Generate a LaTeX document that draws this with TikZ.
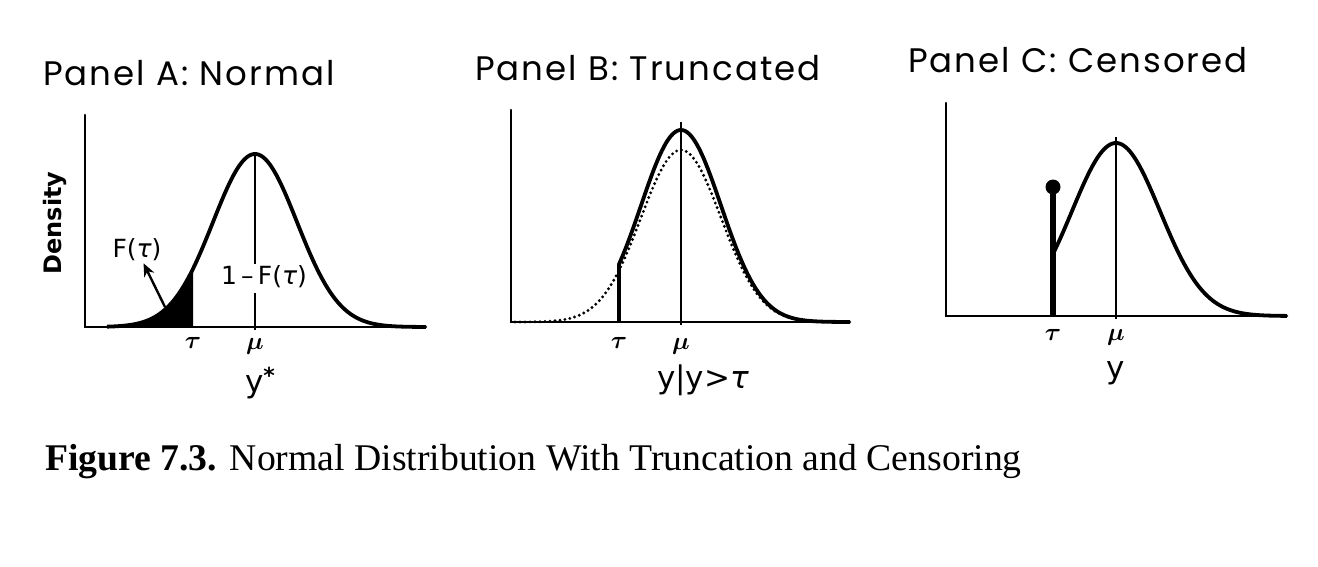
\documentclass[tikz,border=0pt]{standalone}
\usepackage{bm}
\usepackage{fontspec}
\setmainfont{Liberation Serif}
\newfontfamily\titlefont[LetterSpace=6]{Poppins}
\newfontfamily\labelfont{DejaVu Sans}
\usetikzlibrary{arrows.meta}
\newcommand{\gtau}{{\labelfont\itshape τ}}
\begin{document}
\begin{tikzpicture}[x=1pt,y=-1pt,
  axis/.style={line width=2.6pt,line cap=round,line join=miter},
  curve/.style={line width=3.8pt,line join=round},
  muline/.style={line width=1.6pt},
  dotcurve/.style={line width=3.2pt,line cap=round,dash pattern=on 0pt off 5pt},
  titletext/.style={font=\titlefont\fontsize{34}{38}\selectfont,anchor=base west,inner sep=0pt},
  greek/.style={font=\fontsize{31}{33}\selectfont,inner sep=0pt},
  axlab/.style={font=\labelfont\fontsize{31}{34}\selectfont,inner sep=0pt},
  smalllab/.style={font=\labelfont\fontsize{25}{28}\selectfont,inner sep=2pt},
  arrowline/.style={line width=2.4pt,-{Stealth[length=13pt,width=11pt]}}
]
\useasboundingbox (0,0) rectangle (1318,566);
\fill[white] (0,0) rectangle (1318,566);

% ---------- Panel A ----------
\node[titletext] (tA) at (43,85) {Panel A: Normal};
\fill plot[domain=107:193,samples=40] (\x,{327-173*exp(-0.5*((\x-255)/42)^2)}) -- (193,327) -- cycle;
\draw[axis] (85,115) -- (85,327) -- (426,327);
\draw[curve] plot[domain=107:426,samples=140] (\x,{327-173*exp(-0.5*((\x-255)/42)^2)});
\node[smalllab] (oneF) at (264,277) {1\,\textendash\,F(\gtau)};
\draw[muline] (255,154) -- (255,264);
\draw[muline] (255,293) -- (255,330);
\node[smalllab] (Ftau) at (137,250) {F(\gtau)};
\coordinate (arrA) at (165,307);
\draw[arrowline] (arrA) -- (Ftau);
\node[font=\labelfont\bfseries\fontsize{24}{26}\selectfont,rotate=90,inner sep=0pt] (dens) at (55,223) {Density};
\node[greek] (tauA) at (193,343) {$\bm{\tau}$};
\node[greek] (muA) at (255,346) {$\bm{\mu}$};
\node[axlab] (yA) at (260,383) {y\raisebox{9pt}{\fontsize{22}{22}\selectfont\bfseries *}};

% ---------- Panel B ----------
\node[titletext] (tB) at (475,80) {Panel B: Truncated};
\draw[axis] (511,110) -- (511,322) -- (850,322);
\draw[dotcurve] plot[domain=515:850,samples=140] (\x,{322-172*exp(-0.5*((\x-681)/40)^2)});
\draw[curve] (619,322) -- plot[domain=619:850,samples=120] (\x,{322-192*exp(-0.5*((\x-681)/40)^2)});
\draw[muline] (681,122) -- (681,325);
\node[greek] (tauB) at (619,343) {$\bm{\tau}$};
\node[greek] (muB) at (681,346) {$\bm{\mu}$};
\node[axlab] (yB) at (703,380) {y|y>\gtau};

% ---------- Panel C ----------
\node[titletext] (tC) at (908,72) {Panel C: Censored};
\draw[axis] (946,103) -- (946,316) -- (1287,316);
\draw[curve] plot[domain=1053:1287,samples=120] (\x,{316-173*exp(-0.5*((\x-1116)/44)^2)});
\draw[line width=5.5pt] (1053,316) -- (1053,187);
\fill (1053,187) circle (7.5);
\draw[muline] (1116,137) -- (1116,319);
\node[greek] (tauC) at (1053,335) {$\bm{\tau}$};
\node[greek] (muC) at (1116,337) {$\bm{\mu}$};
\node[axlab] (yC) at (1116,373) {y};

% ---------- Caption ----------
\node[anchor=base west,inner sep=0pt,font=\fontsize{37.7}{42}\selectfont] (cap) at (45,470)
  {\textbf{Figure 7.3.} Normal Distribution With Truncation and Censoring};
\end{tikzpicture}
\end{document}
